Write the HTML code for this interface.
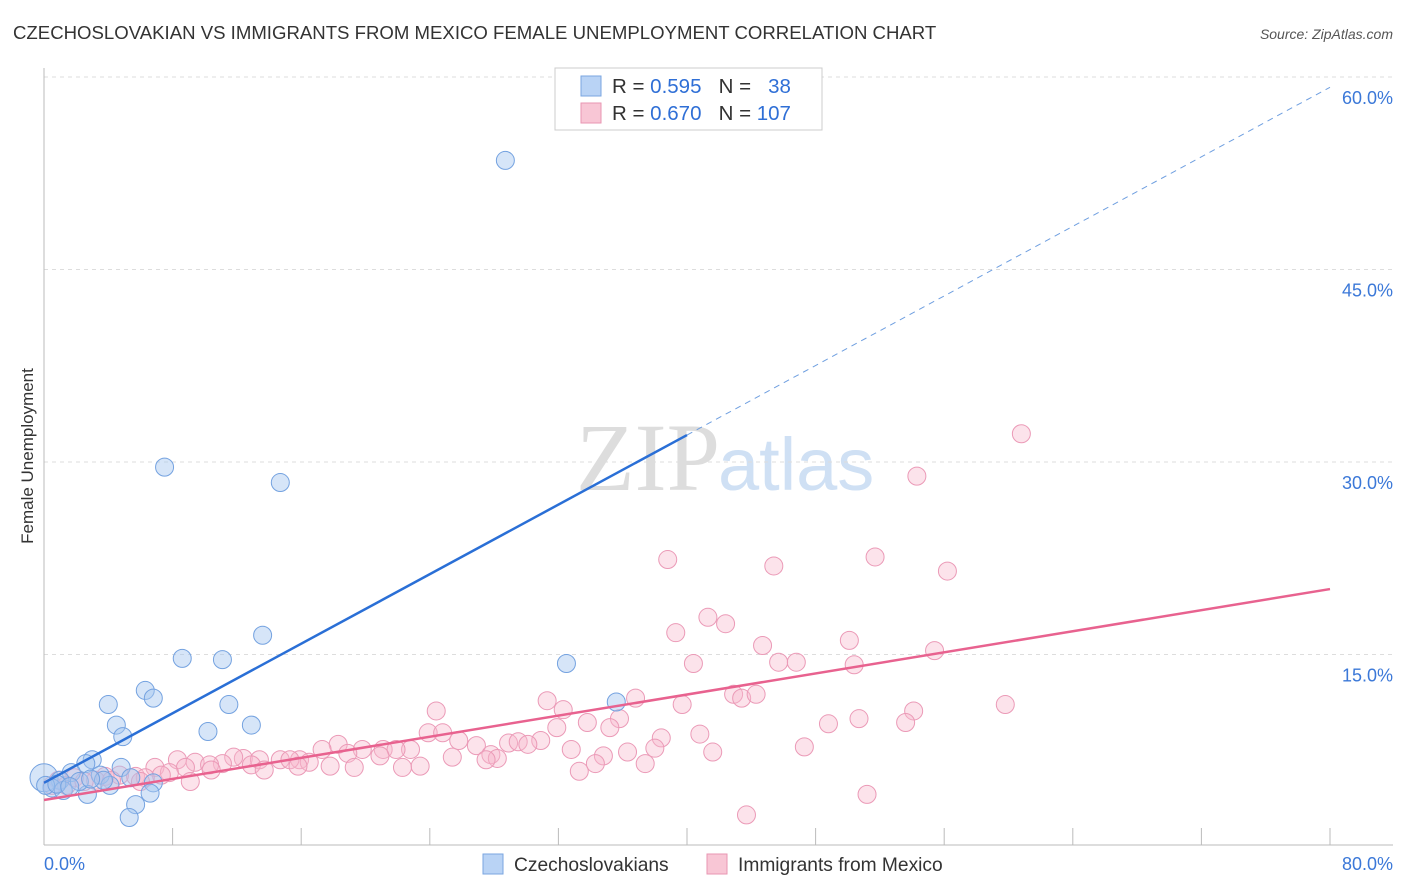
<!DOCTYPE html>
<html><head><meta charset="utf-8"><style>
body{margin:0;background:#fff;font-family:"Liberation Sans",sans-serif;}
svg{display:block}
</style></head><body>
<svg id="chart" width="1406" height="892">
<text x="13" y="39" font-size="18.6" fill="#333">CZECHOSLOVAKIAN VS IMMIGRANTS FROM MEXICO FEMALE UNEMPLOYMENT CORRELATION CHART</text>
<text x="1393" y="39" font-size="14" fill="#555" font-style="italic" text-anchor="end">Source: ZipAtlas.com</text>
<text x="720" y="490" font-size="96" font-family="Liberation Serif,serif" fill="#ddd" text-anchor="end">ZIP</text>
<text x="718" y="490" font-size="74" fill="#cfe0f4">atlas</text>
<text transform="translate(33,456) rotate(-90)" font-size="17" fill="#333" text-anchor="middle">Female Unemployment</text>
<g id="grid"></g>
<g id="marks"></g>
<g id="lines"></g>
<rect x="555" y="68" width="267" height="62" fill="#fff" stroke="#ccc"/>
<rect x="581" y="76" width="20" height="20" fill="#b9d3f5" stroke="#7aa6e0"/>
<text x="612" y="93" font-size="20.5" fill="#333">R = <tspan fill="#2f6fd6">0.595</tspan>&#160;&#160;&#160;N = &#160;&#160;<tspan fill="#2f6fd6">38</tspan></text>
<rect x="581" y="103" width="20" height="20" fill="#f8c6d5" stroke="#e896b2"/>
<text x="612" y="120" font-size="20.5" fill="#333">R = <tspan fill="#2f6fd6">0.670</tspan>&#160;&#160;&#160;N = <tspan fill="#2f6fd6">107</tspan></text>
<rect x="483" y="854" width="20" height="20" fill="#b9d3f5" stroke="#7aa6e0"/>
<text x="514" y="871" font-size="19.2" fill="#333">Czechoslovakians</text>
<rect x="707" y="854" width="20" height="20" fill="#f8c6d5" stroke="#e896b2"/>
<text x="738" y="871" font-size="19.2" fill="#333">Immigrants from Mexico</text>
<text x="44" y="870" font-size="18" fill="#3b78d8">0.0%</text>
<text x="1393" y="870" font-size="18" fill="#3b78d8" text-anchor="end">80.0%</text>
</svg>
<script>
const yTicks=[15,30,45,60];
const yTickLabels=["15.0%","30.0%","45.0%","60.0%"];
const xTicks=[8,16,24,32,40,48,56,64,72,80];
const czX=[28.7,7.5,14.7,13.6,8.6,11.1,32.5,6.3,6.8,4.0,11.5,35.6,4.5,12.9,10.2,4.9,3.0,2.6,4.8,1.7,0,3.5,5.4,1.0,6.8,4.1,0.5,1.2,2.7,6.6,5.7,5.3,0.1,2.2,3.7,0.8,1.6,2.9];
const czY=[53.5,29.6,28.4,16.5,14.7,14.6,14.3,12.2,11.6,11.1,11.1,11.3,9.5,9.5,9.0,8.6,6.8,6.5,6.2,5.8,5.4,5.6,5.4,5.2,5.0,4.8,4.6,4.4,4.1,4.2,3.3,2.3,4.8,5.1,5.2,4.9,4.7,5.3];
const mxX=[60.8,54.3,38.8,45.4,51.7,56.2,41.3,42.4,39.3,44.7,50.1,55.4,40.4,45.7,46.8,50.4,36.8,31.3,42.9,43.4,44.3,39.7,32.3,24.4,54.1,59.8,50.7,35.8,33.8,53.6,48.8,31.9,35.2,23.9,24.8,40.8,38.4,30.9,25.8,28.9,29.5,30.1,18.3,26.9,38.0,47.3,41.6,32.8,36.3,19.8,21.1,22.8,21.9,17.3,18.9,25.4,27.8,28.2,27.5,34.8,20.9,15.9,14.7,15.3,16.5,12.4,11.8,13.4,9.4,8.3,11.1,10.3,34.3,37.4,12.9,17.8,15.8,22.3,23.4,19.3,33.3,6.9,8.8,10.4,13.7,7.8,7.3,4.7,3.8,5.7,6.3,3.2,1.9,0.9,0.5,1.4,51.2,43.7,2.5,6.0,4.2,9.1];
const mxY=[32.2,28.9,22.4,21.9,22.6,21.5,17.9,17.4,16.7,15.7,16.1,15.3,14.3,14.4,14.4,14.2,11.6,11.4,11.9,11.6,11.9,11.1,10.7,10.6,10.6,11.1,10.0,10.0,9.7,9.7,9.6,9.3,9.3,8.9,8.9,8.8,8.5,8.3,8.3,8.1,8.2,8.0,8.0,7.9,7.7,7.8,7.4,7.6,7.4,7.6,7.6,7.6,7.6,7.6,7.3,7.0,7.2,6.9,6.8,7.1,7.1,6.8,6.8,6.8,6.6,6.9,7.0,6.8,6.6,6.8,6.5,6.4,6.5,6.5,6.4,6.3,6.3,6.2,6.3,6.2,5.9,6.2,6.2,6.0,6.0,5.8,5.6,5.6,5.5,5.5,5.4,5.2,5.4,5.2,4.8,4.8,4.1,2.5,5.1,5.1,5.2,5.1];
const czLine=[5.0,59.2];
const mxLine=[3.66,20.1];
const NS="http://www.w3.org/2000/svg";
const X=v=>44+v/80*1286;
const Y=v=>847-v/15*192.5;
function mk(tag,attrs,parent){const e=document.createElementNS(NS,tag);for(const k in attrs)e.setAttribute(k,attrs[k]);document.getElementById(parent).appendChild(e);return e;}
yTicks.forEach((t,i)=>{
 const l=mk('line',{x1:44,x2:1393,y1:Y(t),y2:Y(t),stroke:'#ddd','stroke-dasharray':'4,4'},'grid');
 
 
 const tx=mk('text',{x:1393,y:Y(t)+27,'font-size':18,fill:'#3b78d8','text-anchor':'end'},'grid');
 tx.textContent=yTickLabels[i];
 
 
});
const ax=mk('line',{x1:44,x2:44,y1:68,y2:845,stroke:'#bbb'},'grid');


const bx=mk('line',{x1:44,x2:1393,y1:845,y2:845,stroke:'#bbb'},'grid');


xTicks.forEach(t=>{
 const l=mk('line',{x1:X(t),x2:X(t),y1:828,y2:845,stroke:'#bbb'},'grid');
 
 
});
mxX.forEach((v,i)=>{
 const c=mk('circle',{cx:X(v),cy:Y(mxY[i]),r:9,fill:'rgba(248,185,205,0.4)',stroke:'#eb9ab7','stroke-width':1},'marks');
 
 
});
czX.forEach((v,i)=>{
 const c=mk('circle',{cx:X(v),cy:Y(czY[i]),r:i==20?14:9,fill:'rgba(165,198,240,0.45)',stroke:'#74a2e0','stroke-width':1},'marks');
 
 
});
const cy40=czLine[0]+(czLine[1]-czLine[0])/2;
const l1=mk('line',{x1:X(0),y1:Y(czLine[0]),x2:X(40),y2:Y(cy40),stroke:'#2a6fd6','stroke-width':2.5},'lines');


const l2=mk('line',{x1:X(40),y1:Y(cy40),x2:X(80),y2:Y(czLine[1]),stroke:'#6f9fe0','stroke-width':1,'stroke-dasharray':'6,5'},'lines');


const l3=mk('line',{x1:X(0),y1:Y(mxLine[0]),x2:X(80),y2:Y(mxLine[1]),stroke:'#e8628f','stroke-width':2.5},'lines');


</script>
</body></html>
